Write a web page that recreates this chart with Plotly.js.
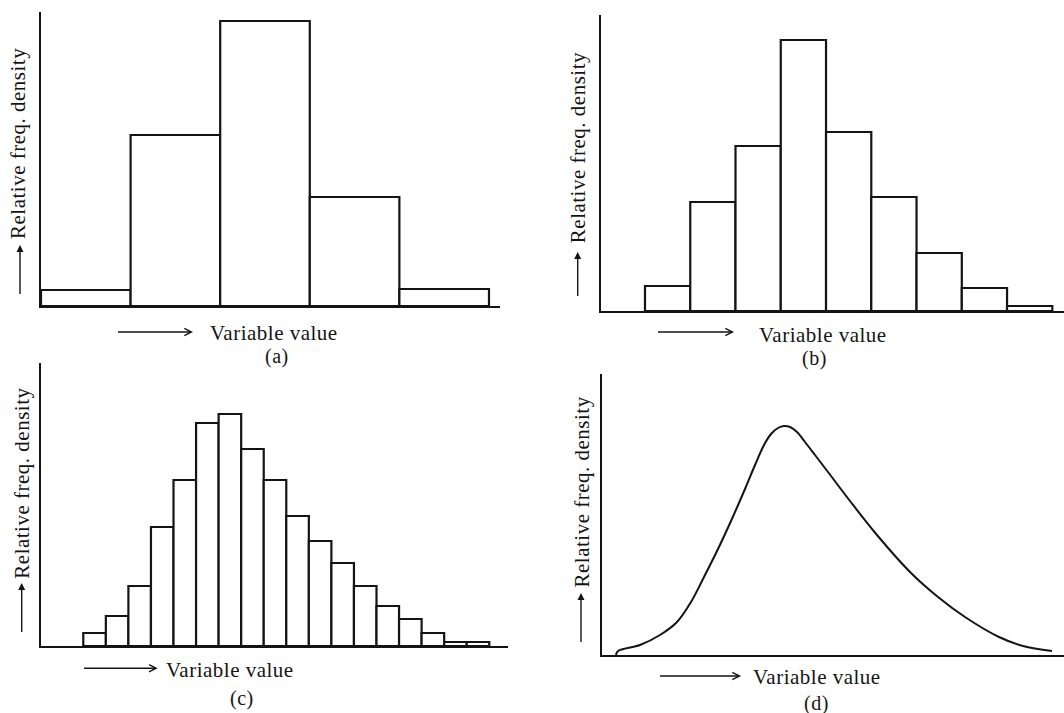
<!DOCTYPE html>
<html><head><meta charset="utf-8">
<script src="https://cdn.plot.ly/plotly-3.0.1.min.js"></script>
<style>
html,body{margin:0;padding:0;background:#fff;}
.annotation-text{letter-spacing:0.5px;}
</style>
</head><body>
<div id="chart" style="width:1064px;height:713px;"></div>
<script>
// ---- data ----
const binsA = [0, 1, 2, 3, 4];
const densA = [0.16, 1.71, 2.85, 1.09, 0.17];

const binsB = [0, 1, 2, 3, 4, 5, 6, 7, 8];
const densB = [0.25, 1.09, 1.65, 2.71, 1.79, 1.14, 0.58, 0.23, 0.05];

const binsC = [0, 1, 2, 3, 4, 5, 6, 7, 8, 9, 10, 11, 12, 13, 14, 15, 16, 17];
const densC = [0.13, 0.30, 0.60, 1.19, 1.66, 2.23, 2.32, 1.97, 1.66, 1.30, 1.05, 0.83, 0.60, 0.40, 0.27, 0.13, 0.04, 0.04];

const curveX = [1.4, 1.6, 3.8, 5.8, 7.5, 8.9, 10.2, 11.6, 12.9, 14.3, 15.3, 16.2, 16.9, 17.6, 18.2, 18.8, 19.5, 20.3, 21.3, 22.6, 24.8, 27.5, 30.9, 33.6, 36.3, 39.7, 42.1, 45.0];
const curveY = [0, 0.04, 0.10, 0.20, 0.33, 0.53, 0.78, 1.06, 1.34, 1.66, 1.90, 2.10, 2.21, 2.27, 2.29, 2.28, 2.23, 2.13, 2.00, 1.83, 1.54, 1.20, 0.82, 0.58, 0.38, 0.18, 0.09, 0.04];

const yLabel = 'Relative freq. density';
const xLabel = 'Variable value';
const panelTags = ['(a)', '(b)', '(c)', '(d)'];

// ---- layout helpers ----
const W = 1064, H = 713;
const px = v => v / W;
const py = v => 1 - v / H;
const INK = '#141414';
const FONT = 'Liberation Serif, Times New Roman, serif';

const axisStyle = {
  showline: true, linecolor: INK, linewidth: 2,
  showgrid: false, zeroline: false, showticklabels: false, ticks: '', fixedrange: true
};

const barStyle = {color: '#ffffff', line: {color: INK, width: 2.2}};

const traces = [
  {type: 'bar', x: binsA, y: densA, width: 1, marker: barStyle, xaxis: 'x', yaxis: 'y', hoverinfo: 'skip'},
  {type: 'bar', x: binsB, y: densB, width: 1, marker: barStyle, xaxis: 'x2', yaxis: 'y2', hoverinfo: 'skip'},
  {type: 'bar', x: binsC, y: densC, width: 1, marker: barStyle, xaxis: 'x3', yaxis: 'y3', hoverinfo: 'skip'},
  {type: 'scatter', mode: 'lines', x: curveX, y: curveY, xaxis: 'x4', yaxis: 'y4',
   line: {color: INK, width: 2, shape: 'spline', smoothing: 1}, hoverinfo: 'skip'}
];

const annotations = [];
function txt(x, y, text, size, angle) {
  annotations.push({xref: 'paper', yref: 'paper', x: px(x), y: py(y), text: text,
    showarrow: false, xanchor: 'center', yanchor: 'middle', textangle: angle || 0,
    font: {family: FONT, size: size, color: INK}});
}
function arrow(hx, hy, tx, ty, head) {
  annotations.push({xref: 'paper', yref: 'paper', x: px(hx), y: py(hy), text: ' ',
    showarrow: true, arrowhead: head, arrowsize: 1, arrowwidth: 1.4, arrowcolor: INK,
    ax: tx - hx, ay: ty - hy, standoff: 0, startstandoff: 0, font: {size: 2}});
}

// y-axis labels with upward arrows
const yLab = [[18, 144, 20, 245, 297], [577.7, 147.5, 577.7, 252, 299], [21.7, 483, 21.7, 583, 635], [581, 492.5, 581, 593, 645]];
yLab.forEach(r => { txt(r[0], r[1], yLabel, 21, -90); arrow(r[2], r[3], r[2], r[4], 2); });

// x-axis labels with rightward arrows
const xLab = [[274, 333, 193, 332, 116], [822.5, 335, 734, 332, 656], [230, 670, 157.7, 668.3, 82], [817, 676.7, 741, 676, 658]];
xLab.forEach(r => { txt(r[0], r[1], xLabel, 21, 0); arrow(r[2], r[3], r[4], r[3], 5); });

// panel tags
const tagPos = [[277, 356], [814, 358], [242, 698], [816, 703]];
tagPos.forEach((p, i) => txt(p[0], p[1], panelTags[i], 20, 0));

const layout = {
  width: W, height: H,
  margin: {l: 0, r: 0, t: 0, b: 0},
  paper_bgcolor: '#ffffff', plot_bgcolor: 'rgba(0,0,0,0)',
  showlegend: false, bargap: 0,
  xaxis:  Object.assign({}, axisStyle, {domain: [px(41), px(500)],  range: [-0.5, 4.623],   anchor: 'y'}),
  yaxis:  Object.assign({}, axisStyle, {domain: [py(306), py(12)],  range: [0, 2.94],       anchor: 'x'}),
  xaxis2: Object.assign({}, axisStyle, {domain: [px(601), 1],       range: [-1.472, 8.758], anchor: 'y2'}),
  yaxis2: Object.assign({}, axisStyle, {domain: [py(311), py(15)],  range: [0, 2.96],       anchor: 'x2'}),
  xaxis3: Object.assign({}, axisStyle, {domain: [px(41), px(508)],  range: [-2.375, 18.33], anchor: 'y3'}),
  yaxis3: Object.assign({}, axisStyle, {domain: [py(646), py(363)], range: [0, 2.83],       anchor: 'x3'}),
  xaxis4: Object.assign({}, axisStyle, {domain: [px(602), 1],       range: [0, 46.2],       anchor: 'y4'}),
  yaxis4: Object.assign({}, axisStyle, {domain: [py(655), py(374)], range: [0, 2.81],       anchor: 'x4'}),
  annotations: annotations
};

Plotly.newPlot('chart', traces, layout, {staticPlot: true, displayModeBar: false});
</script>
</body></html>
